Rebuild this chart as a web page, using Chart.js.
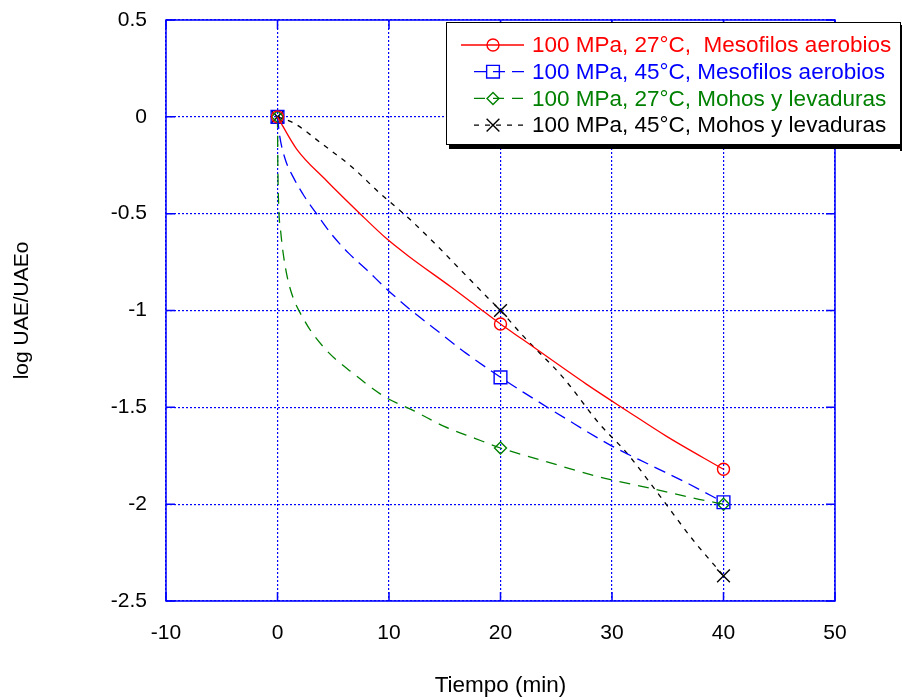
<!DOCTYPE html>
<html>
<head>
<meta charset="utf-8">
<script src="https://cdn.jsdelivr.net/npm/chart.js@4/dist/chart.umd.min.js"></script>
<style>
  html, body { margin: 0; padding: 0; background: #fff; }
</style>
</head>
<body>
<canvas id="grafico" width="902" height="700"></canvas>
<script>
'use strict';

// puntos medidos
const tiempos = [0, 20, 40];
const mesofilos27 = [0, -1.07, -1.82];
const mesofilos45 = [0, -1.345, -1.99];
const mohos27 = [0, -1.71, -2.0];
const mohos45 = [0, -1.0, -2.37];

// curvas
const curvaMes27T = [0, 1.7, 4.4, 7.4, 9.8, 11.7, 15.6, 17.8, 20, 22, 27.7, 31.4, 34.9, 40];
const curvaMes27Y = [0, -0.165, -0.33, -0.5, -0.63, -0.717, -0.88, -0.975, -1.07, -1.15, -1.38, -1.52, -1.65, -1.82];
const curvaMes45T = [0, 0.2, 0.7, 1.4, 2.4, 3.5, 4.9, 6.4, 8, 9.9, 12, 14, 16.9, 20, 22, 25.9, 30, 33.5, 36.7, 40];
const curvaMes45Y = [0, -0.1, -0.22, -0.31, -0.41, -0.5, -0.61, -0.705, -0.79, -0.895, -1.0, -1.09, -1.22, -1.345, -1.42, -1.56, -1.7, -1.8, -1.89, -1.99];
const curvaMoh27T = [0, 0.03, 0.1, 0.3, 0.6, 1.1, 2.4, 4.3, 6.9, 9.6, 12.3, 15, 17.7, 20, 23.5, 28.9, 33.6, 37.8, 40];
const curvaMoh27Y = [0, -0.25, -0.45, -0.6, -0.74, -0.88, -1.05, -1.2, -1.33, -1.445, -1.52, -1.6, -1.66, -1.71, -1.77, -1.86, -1.92, -1.975, -2.0];
const curvaMoh45T = [0, 1.4, 4, 6.7, 9.1, 11.7, 14.3, 16.5, 18.7, 20, 22, 25.6, 28.9, 31.3, 34.3, 37.2, 40];
const curvaMoh45Y = [0, -0.03, -0.14, -0.26, -0.39, -0.52, -0.665, -0.795, -0.925, -1.0, -1.13, -1.345, -1.587, -1.734, -1.958, -2.18, -2.37];

const etiquetas = [
  '100 MPa, 27\u00B0C,  Mesofilos aerobios',
  '100 MPa, 45\u00B0C, Mesofilos aerobios',
  '100 MPa, 27\u00B0C, Mohos y levaduras',
  '100 MPa, 45\u00B0C, Mohos y levaduras'
];

const xTicks = [-10, 0, 10, 20, 30, 40, 50];
const yTicks = [0.5, 0, -0.5, -1, -1.5, -2, -2.5];

const fuente = '"Liberation Sans", Arial, sans-serif';

const estilos = [
  { color: '#ff0000', dash: [], punto: 'circle', radio: 6 },
  { color: '#0000ff', dash: [12, 7], punto: 'rect', radio: 9 },
  { color: '#008000', dash: [11, 8], punto: 'rectRot', radio: 6 },
  { color: '#000000', dash: [5, 6], punto: 'crossRot', radio: 9 }
];

const curvas = [
  [curvaMes27T, curvaMes27Y],
  [curvaMes45T, curvaMes45Y],
  [curvaMoh27T, curvaMoh27Y],
  [curvaMoh45T, curvaMoh45Y]
];
const medidos = [mesofilos27, mesofilos45, mohos27, mohos45];

const datasets = [];
curvas.forEach((c, i) => {
  datasets.push({
    label: etiquetas[i],
    data: c[0].map((t, k) => ({ x: t, y: c[1][k] })),
    showLine: true,
    borderColor: estilos[i].color,
    borderDash: estilos[i].dash,
    borderWidth: 1.3,
    pointRadius: 0,
    cubicInterpolationMode: 'monotone',
    fill: false
  });
});
medidos.forEach((m, i) => {
  datasets.push({
    label: etiquetas[i] + ' (datos)',
    data: tiempos.map((t, k) => ({ x: t, y: m[k] })),
    showLine: false,
    pointStyle: estilos[i].punto,
    pointRadius: estilos[i].radio,
    pointBorderColor: estilos[i].color,
    pointBackgroundColor: 'rgba(0,0,0,0)',
    pointBorderWidth: 1.4
  });
});

// marco azul con marcas hacia dentro
const marco = {
  id: 'marco',
  beforeDatasetsDraw(chart) {
    const { ctx, chartArea: a, scales: { x, y } } = chart;
    ctx.save();
    ctx.strokeStyle = '#0000ff';
    ctx.lineWidth = 1.5;
    ctx.setLineDash([]);
    ctx.strokeRect(a.left, a.top, a.right - a.left, a.bottom - a.top);
    ctx.beginPath();
    xTicks.forEach(v => {
      const px = x.getPixelForValue(v);
      ctx.moveTo(px, a.bottom); ctx.lineTo(px, a.bottom - 9);
      ctx.moveTo(px, a.top); ctx.lineTo(px, a.top + 9);
    });
    yTicks.forEach(v => {
      const py = y.getPixelForValue(v);
      ctx.moveTo(a.left, py); ctx.lineTo(a.left + 9, py);
      ctx.moveTo(a.right, py); ctx.lineTo(a.right - 9, py);
    });
    ctx.stroke();
    ctx.restore();
  }
};

const leyenda = {
  id: 'leyenda',
  afterDraw(chart) {
    const ctx = chart.ctx;
    const bx = 446, by = 22, bw = 454, bh = 122;
    ctx.save();
    ctx.fillStyle = '#000';
    ctx.fillRect(bx + 3, by + bh, bw + 4, 5);
    ctx.fillRect(bx + bw, by + 3, 5, bh + 4);
    ctx.fillStyle = '#fff';
    ctx.fillRect(bx, by, bw, bh);
    ctx.strokeStyle = '#000';
    ctx.lineWidth = 1;
    ctx.strokeRect(bx + 0.5, by + 0.5, bw, bh);
    ctx.font = '22.5px ' + fuente;
    ctx.textBaseline = 'middle';
    ctx.textAlign = 'left';
    estilos.forEach((s, i) => {
      const yy = by + 23 + i * 26.7;
      ctx.strokeStyle = s.color;
      ctx.lineWidth = 1.3;
      ctx.setLineDash(s.dash);
      ctx.beginPath();
      ctx.moveTo(i === 0 ? 461 : 474, yy);
      ctx.lineTo(524, yy);
      ctx.stroke();
      ctx.setLineDash([]);
      ctx.lineWidth = 1.4;
      ctx.fillStyle = 'rgba(0,0,0,0)';
      Chart.helpers.drawPoint(ctx, { pointStyle: s.punto, radius: s.radio, borderWidth: 1.4 }, 493, yy);
      ctx.fillStyle = s.color;
      ctx.fillText(etiquetas[i], 532, yy + 1);
    });
    ctx.restore();
  }
};

const ctx = document.getElementById('grafico').getContext('2d');
const myChart = new Chart(ctx, {
  type: 'scatter',
  data: { datasets: datasets },
  options: {
    responsive: false,
    animation: false,
    layout: { padding: { top: 20, right: 67, left: 0, bottom: 0 } },
    plugins: { legend: { display: false }, tooltip: { enabled: false } },
    scales: {
      x: {
        type: 'linear',
        min: -10,
        max: 50,
        afterBuildTicks: s => { s.ticks = xTicks.map(v => ({ value: v })); },
        afterFit: s => { s.height = 99; s.paddingLeft = 0; s.paddingRight = 0; },
        ticks: { color: '#000', font: { family: fuente, size: 21 }, padding: 20, maxRotation: 0, autoSkip: false, callback: v => String(v) },
        grid: { color: '#0000ff', lineWidth: 1.2, drawTicks: false },
        border: { display: false, dash: [2, 2] },
        title: { display: true, text: 'Tiempo (min)', color: '#000', font: { family: fuente, size: 22.5 }, padding: { top: 0, bottom: 1 } }
      },
      y: {
        type: 'linear',
        min: -2.5,
        max: 0.5,
        afterBuildTicks: s => { s.ticks = yTicks.map(v => ({ value: v })); },
        afterFit: s => { s.width = 166; s.paddingTop = 0; s.paddingBottom = 0; },
        ticks: { color: '#000', font: { family: fuente, size: 21 }, padding: 19, autoSkip: false, callback: v => String(v) },
        grid: { color: '#0000ff', lineWidth: 1.2, drawTicks: false },
        border: { display: false, dash: [2, 2] },
        title: { display: true, text: 'log UAE/UAEo', color: '#000', font: { family: fuente, size: 21 }, padding: { top: 10, bottom: 0 } }
      }
    }
  },
  plugins: [marco, leyenda]
});
</script>
</body>
</html>
